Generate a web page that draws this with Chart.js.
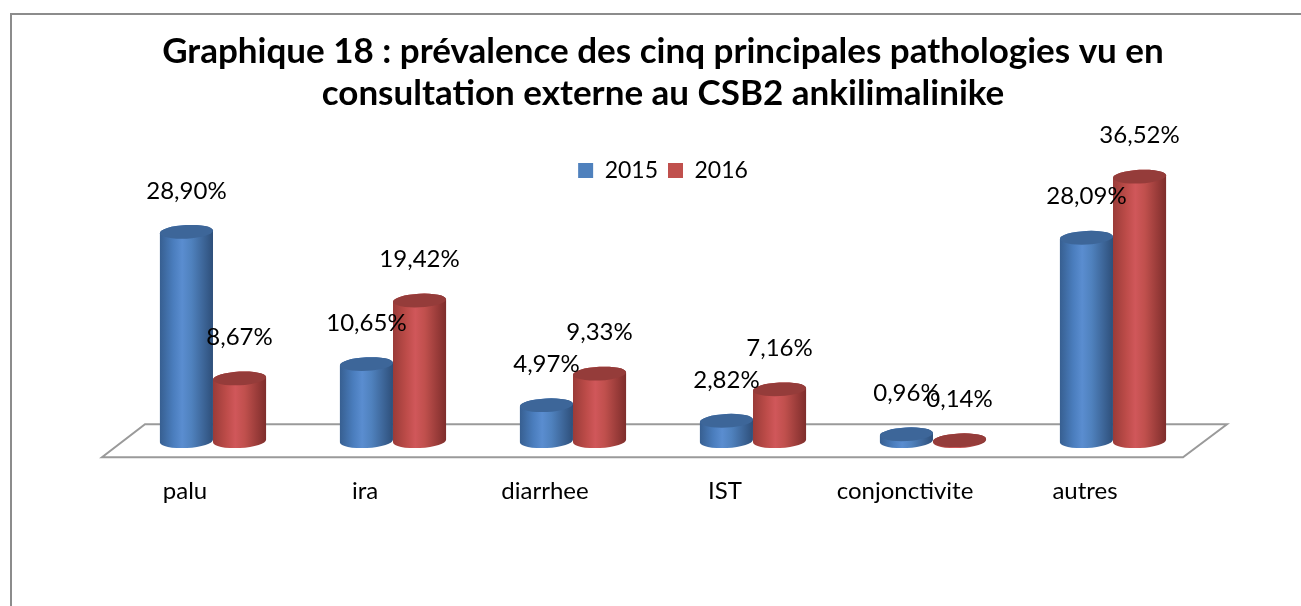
<!DOCTYPE html>
<html>
<head>
<meta charset="utf-8">
<script src="https://cdn.jsdelivr.net/npm/chart.js@4.4.0/dist/chart.umd.min.js"></script>
<style>
  html, body { margin: 0; padding: 0; background: #fff; }
  #wrap { position: relative; width: 1301px; height: 606px; }
</style>
</head>
<body>
<div id="wrap"><canvas id="chart"></canvas></div>
<script>
const categories = ['palu', 'ira', 'diarrhee', 'IST', 'conjonctivite', 'autres'];
const seriesNames = ['2015', '2016'];
const values2015 = [28.90, 10.65, 4.97, 2.82, 0.96, 28.09];
const values2016 = [8.67, 19.42, 9.33, 7.16, 0.14, 36.52];

const FONT = 'Lato, "Open Sans", sans-serif';

// couleurs des cylindres (corps en dégradé + dessus plus foncé)
const styles = [
    { flat: '#4f81bd', top: '#3d6699', stops: ['#375f91', '#4a7dbd', '#5a8dd0', '#4f81bd', '#2e4f7a'] },
    { flat: '#c0504d', top: '#953c3a', stops: ['#9a3b38', '#bd4c49', '#d0575a', '#c0504d', '#7e2d2b'] }
];

function fmt(v) {
    return v.toFixed(2).replace('.', ',') + '%';
}

function drawCylinder(ctx, cx, w, yTop, yBase, st) {
    const rx = w / 2, ry = 6.8, rot = -0.05;
    const left = cx - rx, right = cx + rx;
    const g = ctx.createLinearGradient(left, 0, right, 0);
    const pos = [0, 0.25, 0.42, 0.6, 1];
    st.stops.forEach((c, i) => g.addColorStop(pos[i], c));

    ctx.beginPath();
    ctx.moveTo(left, yTop);
    ctx.lineTo(left, yBase);
    ctx.ellipse(cx, yBase, rx, ry, rot, Math.PI, 0, true);
    ctx.lineTo(right, yTop);
    ctx.ellipse(cx, yTop, rx, ry, rot, 0, Math.PI, true);
    ctx.closePath();
    ctx.fillStyle = g;
    ctx.fill();

    ctx.beginPath();
    ctx.ellipse(cx, yTop, rx, ry, rot, 0, Math.PI * 2);
    ctx.fillStyle = st.top;
    ctx.fill();
}

const cylinders = {
    id: 'cylinders',
    beforeDraw(chart) {
        const ctx = chart.ctx;
        // cadre gris du graphique
        ctx.save();
        ctx.strokeStyle = '#8c8c8c';
        ctx.lineWidth = 2;
        ctx.beginPath();
        ctx.moveTo(11, 610);
        ctx.lineTo(11, 14);
        ctx.lineTo(1310, 14);
        ctx.stroke();
        ctx.restore();
    },
    beforeDatasetsDraw(chart) {
        // plancher en perspective
        const { ctx, chartArea: a } = chart;
        ctx.save();
        ctx.strokeStyle = '#9a9a9a';
        ctx.lineWidth = 2;
        ctx.beginPath();
        ctx.moveTo(a.left - 21, a.bottom + 16);
        ctx.lineTo(a.right - 20, a.bottom + 16);
        ctx.lineTo(a.right + 24, a.bottom - 17);
        ctx.lineTo(a.left + 22, a.bottom - 17);
        ctx.closePath();
        ctx.stroke();
        ctx.restore();
    },
    beforeDatasetDraw() {
        return false;
    },
    afterDatasetsDraw(chart) {
        const ctx = chart.ctx;
        ctx.save();
        chart.data.datasets.forEach((ds, di) => {
            const meta = chart.getDatasetMeta(di);
            meta.data.forEach(bar => {
                drawCylinder(ctx, bar.x, bar.width, bar.y, bar.base, styles[di]);
            });
        });
        ctx.font = '24px ' + FONT;
        ctx.fillStyle = '#000';
        ctx.textAlign = 'center';
        ctx.textBaseline = 'middle';
        chart.data.datasets.forEach((ds, di) => {
            const meta = chart.getDatasetMeta(di);
            meta.data.forEach((bar, i) => {
                ctx.fillText(fmt(ds.data[i]), bar.x, bar.y - 41);
            });
        });
        ctx.restore();
    }
};

const ctx = document.getElementById('chart').getContext('2d');

new Chart(ctx, {
    type: 'bar',
    data: {
        labels: categories,
        datasets: [
            { label: seriesNames[0], data: values2015, backgroundColor: styles[0].flat, borderWidth: 0 },
            { label: seriesNames[1], data: values2016, backgroundColor: styles[1].flat, borderWidth: 0 }
        ]
    },
    options: {
        responsive: true,
        maintainAspectRatio: false,
        animation: false,
        devicePixelRatio: 1,
        categoryPercentage: 0.59,
        barPercentage: 1.0,
        layout: { padding: { left: 123, right: 98, top: 0, bottom: 64 } },
        plugins: {
            title: {
                display: true,
                text: ['Graphique 18 : prévalence des cinq principales pathologies vu en',
                       'consultation externe au CSB2 ankilimalinike'],
                color: '#000',
                font: { family: FONT, size: 35, weight: 'bold', lineHeight: 1.2 },
                padding: { top: 31, bottom: 34 }
            },
            legend: {
                position: 'top',
                labels: {
                    color: '#000',
                    font: { family: FONT, size: 23 },
                    boxWidth: 15,
                    boxHeight: 15,
                    padding: 10
                }
            },
            tooltip: { enabled: false }
        },
        scales: {
            x: {
                grid: { display: false, drawTicks: false },
                border: { display: false },
                ticks: {
                    color: '#000',
                    font: { family: FONT, size: 24 },
                    padding: 36,
                    labelOffset: -28
                }
            },
            y: {
                display: false,
                min: 0,
                max: 34.4
            }
        }
    },
    plugins: [cylinders]
});
</script>
</body>
</html>
